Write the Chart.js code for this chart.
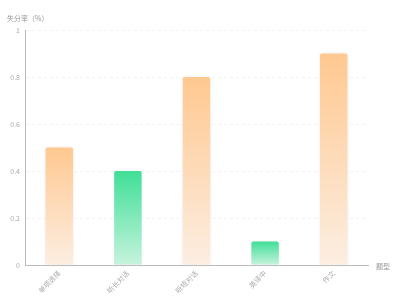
<!DOCTYPE html>
<html><head><meta charset="utf-8">
<script src="https://cdn.jsdelivr.net/npm/chart.js@4/dist/chart.umd.min.js"></script>
<style>html,body{margin:0;padding:0;background:#fff}#w{width:400px;height:300px}</style>
</head><body><div id="w"><canvas id="c"></canvas></div>
<script>
const categories = ["单项选择", "听长对话", "听短对话", "英译中", "作文"];
const lossRates = [0.5, 0.4, 0.8, 0.1, 0.9];
const barKinds = ["orange", "green", "orange", "green", "orange"];
const yTicks = [0, 0.2, 0.4, 0.6, 0.8, 1];
const yTitle = "失分率（%）";
const xTitle = "题型";

const palette = {
  orange: ["#FFC890", "#FCEEE2"],
  green: ["#40DF98", "#C6F3DD"]
};

function barGradient(ctx) {
  const chart = ctx.chart;
  if (!chart.chartArea || ctx.type !== 'data') return '#FFC890';
  const y = chart.scales.y;
  const top = y.getPixelForValue(ctx.raw);
  const bottom = y.getPixelForValue(0);
  const c = palette[barKinds[ctx.dataIndex]];
  const g = chart.ctx.createLinearGradient(0, top, 0, bottom);
  g.addColorStop(0, c[0]);
  g.addColorStop(1, c[1]);
  return g;
}

const titles = {
  id: 'titles',
  afterDraw(chart) {
    const ctx = chart.ctx;
    ctx.save();
    ctx.fillStyle = '#999';
    ctx.font = '7px "Noto Sans CJK SC", sans-serif';
    ctx.textBaseline = 'middle';
    ctx.textAlign = 'left';
    ctx.fillText(yTitle, 7, 18);
    ctx.fillText(xTitle, chart.chartArea.right + 8, chart.chartArea.bottom + 1);
    ctx.restore();
  }
};
const shadow = {
  id: 'shadow',
  beforeDatasetDraw(chart) {
    const ctx = chart.ctx;
    ctx.save();
    ctx.shadowColor = 'rgba(0,0,0,0.08)';
    ctx.shadowBlur = 3;
  },
  afterDatasetDraw(chart) { chart.ctx.restore(); }
};

new Chart(document.getElementById('c'), {
  type: 'bar',
  data: {
    labels: categories,
    datasets: [{
      data: lossRates,
      backgroundColor: barGradient,
      borderRadius: {topLeft: 2, topRight: 2},
      borderSkipped: 'bottom',
      categoryPercentage: 0.4,
      barPercentage: 1
    }]
  },
  options: {
    responsive: true,
    maintainAspectRatio: false,
    animation: false,
    devicePixelRatio: 1,
    layout: {padding: {top: 30, right: 32, left: 0, bottom: 0}},
    plugins: {legend: {display: false}, tooltip: {enabled: false}},
    scales: {
      x: {
        grid: {display: false, drawTicks: false},
        border: {display: true, color: '#bbb', width: 1},
        ticks: {
          color: '#aaa', font: {size: 7, family: '"Noto Sans CJK SC", sans-serif'},
          minRotation: 45, maxRotation: 45, padding: 4, autoSkip: false
        },
        afterFit(s) { s.height = 35; }
      },
      y: {
        min: 0, max: 1,
        afterBuildTicks(s) { s.ticks = yTicks.map(v => ({value: v})); },
        grid: {color: '#f3f3f3', drawTicks: false},
        border: {display: true, color: '#bbb', width: 1, dash: [3, 3]},
        ticks: {
          color: '#aaa', font: {size: 7, family: '"Noto Sans CJK SC", sans-serif'},
          padding: 5,
          callback: v => String(v)
        },
        afterFit(s) { s.width = 25; }
      }
    }
  },
  plugins: [titles, shadow]
});
</script>
</body></html>
